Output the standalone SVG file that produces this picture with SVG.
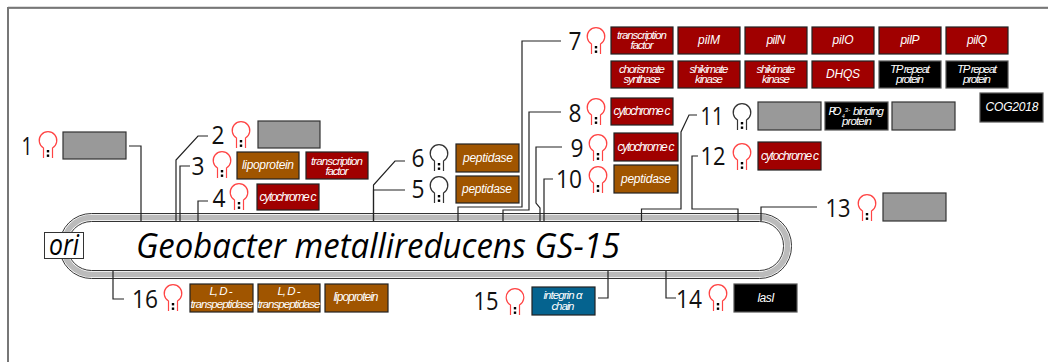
<svg xmlns="http://www.w3.org/2000/svg" width="1048" height="362" viewBox="0 0 1048 362">
<style>
text{font-family:"Open Sans","Noto Sans",sans-serif}
.n{font-size:26px;fill:#111;text-anchor:middle}
.b{stroke-width:1.2}
.gy{fill:#999;stroke:#333}
.rd{fill:#a00000;stroke:#222}
.br{fill:#a05500;stroke:#222}
.bk{fill:#000;stroke:#555}
.bl{fill:#05638f;stroke:#222}
.t{font-family:"Liberation Sans",Arial,sans-serif;font-style:italic;fill:#fff;text-anchor:middle;font-size:12px}
.s{font-size:11.500px}
.hr{stroke:#f44}
.hk{stroke:#333}
.c{fill:none;stroke:#222;stroke-width:1.2}
</style>
<defs>
<g id="hp"><path d="M-4.5 18V8A8.800 8.800 0 1 1 4.500 8V18" fill="none" stroke-width="1.200"/><rect x="-1.200" y="10" width="2.400" height="2.400" fill="#000" stroke="none"/><rect x="-1.200" y="14.500" width="2.400" height="2.400" fill="#000" stroke="none"/></g>
</defs>
<rect width="1048" height="362" fill="#fff"/>
<g id="frame"><path d="M8 7H1048" stroke="#bbb" stroke-width="1" fill="none"/><path d="M8 8H1048" stroke="#111" stroke-width="1" fill="none"/><path d="M8 7V362" stroke="#777" stroke-width="2" fill="none"/></g>
<g id="chromosome">
<rect x="63.500" y="217.500" width="724" height="57" rx="28" fill="none" stroke="#bbb" stroke-width="5.500"/>
<rect x="59.500" y="213.500" width="732" height="65" rx="32" fill="none" stroke="#333" stroke-width="1"/>
<rect x="67.500" y="221.500" width="716" height="49" rx="24" fill="#fff" stroke="#333" stroke-width="1"/>
<text x="136" y="258" font-size="35" font-style="italic" fill="#000" textLength="484" lengthAdjust="spacingAndGlyphs">Geobacter metallireducens GS-15</text>
</g>
<g id="connectors" class="c">
<path d="M129 146H141V221"/><path d="M208 136H198L176 160V221"/><path d="M190 166H180V221"/><path d="M208 201H198V221"/>
<path d="M405 190H373.500V221"/><path d="M405 161H395L373.500 185V221"/>
<path d="M561 41H522V207H458V221"/><path d="M561 112H529V210H503V221"/>
<path d="M562 147H536V203L540 208V221"/><path d="M553 179H544V221"/>
<path d="M697 115H689L681 132V209H641.500V221"/><path d="M698 156H692V209H738V221"/>
<path d="M817 207H761V221"/><path d="M676 298H666V271"/><path d="M598 298H608V271"/><path d="M124 299H113V271"/>
</g>
<g id="ori"><rect x="44.500" y="232.500" width="39" height="26" fill="#fff" stroke="#333"/><text x="64" y="255" font-size="29" font-style="italic" fill="#000" text-anchor="middle" textLength="30" lengthAdjust="spacingAndGlyphs">ori</text></g>
<g id="n1"><text class="n" x="27" y="155" textLength="11" lengthAdjust="spacingAndGlyphs">1</text><use href="#hp" x="48" y="140" class="hr"/><rect class="b gy" x="63" y="132" width="63" height="27"/></g>
<g id="n2"><text class="n" x="218" y="144" textLength="13" lengthAdjust="spacingAndGlyphs">2</text><use href="#hp" x="241" y="130" class="hr"/><rect class="b gy" x="258" y="121" width="62" height="27"/></g>
<g id="n3"><text class="n" x="198" y="175" textLength="13" lengthAdjust="spacingAndGlyphs">3</text><use href="#hp" x="222" y="160" class="hr"/><rect class="b br" x="237" y="152" width="62" height="27"/><text class="t" x="268" y="169" textLength="52">lipoprotein</text><rect class="b rd" x="306" y="152" width="62" height="27"/><text class="t s" x="337" y="165" textLength="52">transcription</text><text class="t s" x="337" y="175" textLength="23">factor</text></g>
<g id="n4"><text class="n" x="219" y="207" textLength="13" lengthAdjust="spacingAndGlyphs">4</text><use href="#hp" x="239" y="192" class="hr"/><rect class="b rd" x="257" y="184" width="62" height="26"/><text class="t" x="288" y="201" textLength="57">cytochrome c</text></g>
<g id="n5"><text class="n" x="418" y="198" textLength="13" lengthAdjust="spacingAndGlyphs">5</text><use href="#hp" x="439" y="185" class="hk"/><rect class="b br" x="456" y="176" width="63" height="27"/><text class="t" x="487" y="193" textLength="50">peptidase</text></g>
<g id="n6"><text class="n" x="418" y="167" textLength="13" lengthAdjust="spacingAndGlyphs">6</text><use href="#hp" x="439" y="153" class="hk"/><rect class="b br" x="456" y="144" width="63" height="28"/><text class="t" x="488" y="162" textLength="50">peptidase</text></g>
<g id="n7"><text class="n" x="575" y="50" textLength="13" lengthAdjust="spacingAndGlyphs">7</text><use href="#hp" x="596" y="36" class="hr"/>
<rect class="b rd" x="611" y="27" width="62" height="27"/><text class="t s" x="642" y="39" textLength="50">transcription</text><text class="t s" x="642" y="49" textLength="23">factor</text>
<rect class="b rd" x="678" y="27" width="62" height="27"/><text class="t" x="709" y="44" textLength="22">pilM</text>
<rect class="b rd" x="745" y="27" width="62" height="27"/><text class="t" x="776" y="44" textLength="19">pilN</text>
<rect class="b rd" x="812" y="27" width="62" height="27"/><text class="t" x="843" y="44" textLength="21">pilO</text>
<rect class="b rd" x="879" y="27" width="62" height="27"/><text class="t" x="910" y="44" textLength="19">pilP</text>
<rect class="b rd" x="946" y="27" width="62" height="27"/><text class="t" x="977" y="44" textLength="20">pilQ</text>
<rect class="b rd" x="611" y="61" width="62" height="27"/><text class="t s" x="642" y="73" textLength="46">chorismate</text><text class="t s" x="642" y="83" textLength="37">synthase</text>
<rect class="b rd" x="678" y="61" width="62" height="27"/><text class="t s" x="709" y="73" textLength="39">shikimate</text><text class="t s" x="709" y="83" textLength="28">kinase</text>
<rect class="b rd" x="745" y="61" width="62" height="27"/><text class="t s" x="776" y="73" textLength="39">shikimate</text><text class="t s" x="776" y="83" textLength="28">kinase</text>
<rect class="b rd" x="812" y="61" width="62" height="27"/><text class="t" x="843" y="78" textLength="34">DHQS</text>
<rect class="b bk" x="879" y="61" width="62" height="27"/><text class="t s" x="910" y="73" textLength="40">TP repeat</text><text class="t s" x="910" y="83" textLength="28">protein</text>
<rect class="b bk" x="946" y="61" width="62" height="27"/><text class="t s" x="977" y="73" textLength="40">TP repeat</text><text class="t s" x="977" y="83" textLength="28">protein</text></g>
<g id="n8"><text class="n" x="575" y="122" textLength="13" lengthAdjust="spacingAndGlyphs">8</text><use href="#hp" x="596" y="107" class="hr"/><rect class="b rd" x="611" y="98" width="62" height="27"/><text class="t" x="642" y="115" textLength="57">cytochrome c</text></g>
<g id="n9"><text class="n" x="577" y="157" textLength="13" lengthAdjust="spacingAndGlyphs">9</text><use href="#hp" x="598" y="143" class="hr"/><rect class="b rd" x="614" y="133" width="64" height="28"/><text class="t" x="646" y="151" textLength="57">cytochrome c</text></g>
<g id="n10"><text class="n" x="569" y="188" textLength="26" lengthAdjust="spacingAndGlyphs">10</text><use href="#hp" x="598" y="175" class="hr"/><rect class="b br" x="614" y="165" width="64" height="28"/><text class="t" x="646" y="183" textLength="50">peptidase</text></g>
<g id="n11"><text class="n" x="712" y="125" textLength="23" lengthAdjust="spacingAndGlyphs">11</text><use href="#hp" x="742" y="112" class="hk"/><rect class="b gy" x="758" y="102" width="63" height="28"/><rect class="b bk" x="825" y="102" width="63" height="28"/><text class="t s" x="835" y="115" textLength="13">PO</text><text class="t" x="843.500" y="118" style="font-size:5px">4</text><text class="t" x="847.500" y="112" style="font-size:6px">3-</text><text class="t s" x="868.500" y="115" textLength="31">binding</text><text class="t s" x="857" y="125" textLength="30">protein</text><rect class="b gy" x="892" y="102" width="63" height="28"/></g>
<g id="n11b"><rect class="b bk" x="980" y="93" width="63" height="29"/><text class="t" x="1012" y="111" textLength="53">COG2018</text></g>
<g id="n12"><text class="n" x="713" y="165" textLength="25" lengthAdjust="spacingAndGlyphs">12</text><use href="#hp" x="742" y="152" class="hr"/><rect class="b rd" x="758" y="142" width="63" height="28"/><text class="t" x="790" y="160" textLength="58">cytochrome c</text></g>
<g id="n13"><text class="n" x="838" y="217" textLength="25" lengthAdjust="spacingAndGlyphs">13</text><use href="#hp" x="867" y="203" class="hr"/><rect class="b gy" x="883" y="193" width="63" height="28"/></g>
<g id="n14"><text class="n" x="689" y="308" textLength="26" lengthAdjust="spacingAndGlyphs">14</text><use href="#hp" x="718" y="293" class="hr"/><rect class="b bk" x="734" y="284" width="63" height="28"/><text class="t" x="766" y="302" textLength="17">lasI</text></g>
<g id="n15"><text class="n" x="486" y="310" textLength="25" lengthAdjust="spacingAndGlyphs">15</text><use href="#hp" x="515" y="297" class="hr"/><rect class="b bl" x="532" y="287" width="63" height="28"/><text class="t s" x="563" y="299" textLength="39">integrin α</text><text class="t s" x="563" y="310" textLength="23">chain</text></g>
<g id="n16"><text class="n" x="145" y="308" textLength="26" lengthAdjust="spacingAndGlyphs">16</text><use href="#hp" x="173" y="293" class="hr"/>
<rect class="b br" x="190" y="284" width="63" height="28"/><text class="t s" x="221" y="295" textLength="23">L, D -</text><text class="t s" x="222" y="308" textLength="63">transpeptidase</text>
<rect class="b br" x="258" y="284" width="62" height="28"/><text class="t s" x="289" y="295" textLength="23">L, D -</text><text class="t s" x="289" y="308" textLength="63">transpeptidase</text>
<rect class="b br" x="325" y="284" width="63" height="28"/><text class="t" x="356" y="301" textLength="45">lipoprotein</text></g>
</svg>
